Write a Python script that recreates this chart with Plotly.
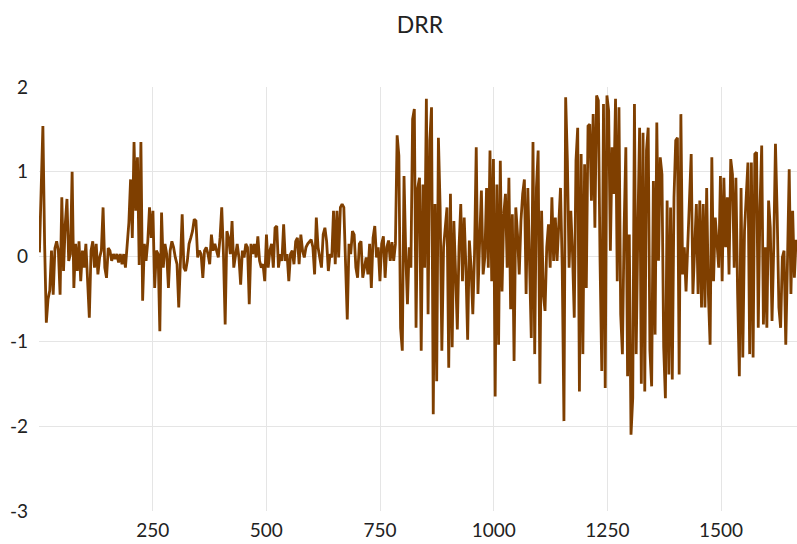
import numpy as np
import plotly.graph_objects as go

TITLE = "DRR"
X_TICKS = [250, 500, 750, 1000, 1250, 1500]
Y_TICKS = [-3, -2, -1, 0, 1, 2]
Y_TICK_TEXT = ["-3", "-2", "-1", "0", "1", "2"]
LINE_COLOR = "#7f3f00"

drr_part1 = [
    0.05, 1.0, 1.54, 0.15, -0.78, -0.5, -0.4, 0.07, -0.45, 0.1, 0.18, 0.07, -0.45, 0.7,
    -0.17, 0.38, 0.68, -0.05, 0.03, 1.0, -0.37, 0.15, -0.17, 0.18, -0.29, 0.07, -0.13,
    0.15, -0.33, -0.72, 0.07, 0.18, -0.13, 0.15, -0.21, -0.01, 0.07, 0.58, -0.13, -0.25,
    0.1, 0.07, -0.05, 0.03, -0.03, 0.03, -0.07, 0.03, -0.09, 0.03, -0.13, 0.15, 0.4, 0.91,
    0.22, 1.35, 0.54, 1.17, -0.1, 1.35, -0.52, 0.15, -0.05, 0.18, 0.58,
]
drr_part2 = [
    0.22, 0.54, -0.37, 0.07, 0.03, -0.88, 0.52, -0.13, 0.15, 0.03, -0.37, 0.07, 0.18,
    0.11, -0.01, -0.09, -0.6, -0.05, 0.5, -0.13, -0.17, -0.05, 0.15, 0.22, 0.3, 0.44,
    0.42, -0.01, 0.07, 0.03, -0.25, 0.07, 0.11, 0.03, -0.09, 0.26, 0.07, 0.15, 0.07,
    -0.01, 0.22, 0.58, 0.03, -0.8, 0.3, 0.22, 0.03, 0.42, -0.13, 0.03, 0.15, -0.01,
    -0.33, 0.07, -0.01, 0.15, 0.11, -0.56, 0.15, 0.03, 0.15, -0.01, 0.24, -0.05, -0.13,
]
drr_part3 = [
    -0.09, -0.29, 0.26, -0.13, 0.07, 0.15, -0.13, 0.34, 0.36, -0.13, 0.03,
    -0.05, 0.38, -0.05, 0.03, -0.29, 0.03, 0.07, -0.09, 0.18, 0.22, -0.09,
    0.26, 0.07, -0.01, 0.11, 0.15, 0.18, 0.2, 0.11, -0.21, 0.46, 0.11, -0.01,
    -0.13, 0.26, 0.34, 0.18, -0.17, 0.03, -0.01, 0.54, -0.09, 0.54, -0.01,
    0.58, 0.62, 0.58, -0.05, -0.74, 0.15, 0.03, 0.3, 0.26, -0.13, -0.25, 0.15, 0.18,
    -0.25, -0.13, -0.01, -0.21, 0.15, -0.37, 0.22, 0.36, -0.01, 0.11, -0.29, 0.15,
    0.24,
]
drr_part4 = [
    -0.25, 0.11, 0.19, -0.05, 0.17, -0.05, 0.15, 1.43, 1.19, -0.84, -1.11, 0.95,
    0.03, -0.56, 0.11, -0.13, 1.62, 1.74, -0.84, 0.81, 0.93, -1.11, 0.85, -0.13, 1.86,
    -0.68, 1.37, 1.76, -1.86, 0.62, -1.47, 1.4, 0.58, -1.11, 0.11, 0.34, 0.58, -1.31,
    0.74, -1.07, 0.42, -0.21, -0.86, 0.11, 0.62, -0.29, 0.46, -0.13, -0.98, 0.19, -0.13,
    -0.68, 0.03, 1.29, -0.44, 0.19, 0.78, -0.21, -0.01, 0.81, -0.13, 1.25, -0.29, 1.15,
    -1.65, 0.85, -1.04, 1.13, -0.41, 0.5, 0.74, -0.13, 0.93, -0.62, 0.5, -1.23, 0.58,
    0.26, -0.21, 0.42, 0.74, 0.91, -0.44, 0.81, -0.05, -0.96, 1.35, -1.15, 0.81, 1.25,
    -1.5, 0.54, -0.44, -0.64, 0.11, 0.38, -0.13, 0.7, -0.05, 0.46, -0.05, 0.34, 0.81,
    -0.13, -1.94, 1.88, 1.13, -0.13, 0.54, 0.03, -0.72, 1.13, 1.52, -1.59, 1.21, -1.15,
    1.09, -0.37, 1.54, 1.56, 0.66, 1.68, 0.34, 1.9, 1.84, -0.05, -1.35, 1.8, -1.55, 1.9,
    1.72, 0.07, 1.29, 0.74, 1.86, -0.29, 1.76, -0.68, -1.15, 0.34, 1.29, -1.41, 0.26,
    -2.1, -1.67, 1.8, -1.15, 0.34, 1.52, -1.5, 1.46, -1.59, 1.25, 1.52, -1.11, -1.53,
    0.89, -0.92, 1.58, -0.05, 1.17, 0.97, -1.07, -1.67, 0.66, -1.39, 0.58, -1.45, 0.7,
    1.37, 1.4, -1.39, 1.68, -0.21, 0.11, -0.41, 0.19, 0.85, 1.21, -0.44, 0.15, 0.62,
    -0.44, 0.66, -0.6, 0.62, -0.6, 0.81, -0.44, -1.04, 1.17, -0.29, 0.46, 0.15, -0.13,
    0.95, -0.29, 0.93, 0.11, 0.7, -0.21, 1.15, 0.97, -0.13, 0.93, -0.44, -1.41, 0.81,
    -1.19, 0.3, 0.64, 1.11, -1.15, 1.11, -1.19, 1.21, 1.23, -0.84, 0.58, 1.31, -0.8,
    0.11, -0.84, 0.66, 0.34, -0.76, 0.11, 1.33, 0.5, -0.6, -0.84, -0.01, 0.07, -1.04,
    -0.05, 1.03, -0.44, 0.54, -0.25, 0.2,
]

drr = drr_part1 + drr_part2 + drr_part3 + drr_part4
FIRST_OBS, LAST_OBS = 1, 1665
obs = np.linspace(FIRST_OBS, LAST_OBS, len(drr))

fig = go.Figure(
    go.Scatter(
        x=obs, y=drr, mode="lines",
        line=dict(color=LINE_COLOR, width=2.8),
        hoverinfo="skip", showlegend=False,
    )
)

FONT = "Lato, Carlito, Calibri, sans-serif"
fig.update_layout(
    width=797, height=544,
    margin=dict(l=39, r=0, t=87, b=33),
    paper_bgcolor="white", plot_bgcolor="white",
    title=dict(text=TITLE, x=0.527, xanchor="center", y=0.955, yanchor="middle",
               font=dict(family=FONT, size=23, color="#222222")),
    font=dict(family=FONT, size=18, color="#222222"),
    xaxis=dict(range=[0, 1667], tickvals=X_TICKS, showgrid=True, gridcolor="#e5e5e5",
               gridwidth=1, zeroline=False, showline=False, ticks="",
               tickfont=dict(size=19), ticklabelstandoff=6),
    yaxis=dict(range=[-3, 2], tickvals=Y_TICKS, ticktext=Y_TICK_TEXT, showgrid=True,
               gridcolor="#e5e5e5", gridwidth=1, zeroline=False, showline=False,
               ticks="", tickfont=dict(size=19), ticklabelstandoff=10),
)

fig.write_html("out.html")
